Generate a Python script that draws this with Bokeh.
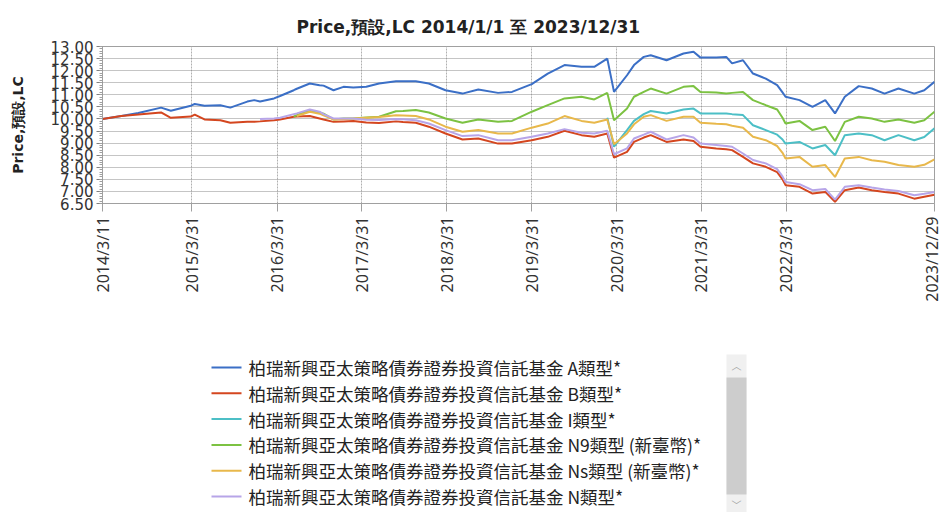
import numpy as np
import pandas as pd
from math import pi
from bokeh.plotting import figure
from bokeh.layouts import column
from bokeh.models import (ColumnDataSource, FixedTicker, Label,
                          BoxAnnotation, NumeralTickFormatter, Range1d, Title)
from bokeh.core.properties import value
from bokeh.embed import file_html
from bokeh.resources import INLINE

# ---------------- data ----------------
dates = [
    "2014-03-11", "2014-05-31", "2014-08-12", "2014-11-18", "2014-12-30",
    "2015-03-26", "2015-04-12", "2015-05-24", "2015-07-31", "2015-09-12",
    "2015-11-24", "2015-12-24", "2016-01-18", "2016-03-18", "2016-04-13",
    "2016-06-11", "2016-06-24", "2016-08-19", "2016-09-30", "2016-10-17",
    "2016-11-29", "2017-01-11", "2017-02-22", "2017-04-19", "2017-06-13",
    "2017-08-25", "2017-09-24", "2017-11-18", "2018-01-13", "2018-03-26",
    "2018-06-07", "2018-08-14", "2018-11-07", "2019-01-06", "2019-04-01",
    "2019-06-09", "2019-08-20", "2019-11-01", "2019-12-26", "2020-02-20",
    "2020-03-20", "2020-05-15", "2020-06-14", "2020-07-26", "2020-08-25",
    "2020-11-01", "2021-01-13", "2021-02-25", "2021-03-27", "2021-06-03",
    "2021-07-16", "2021-08-10", "2021-09-26", "2021-11-08", "2022-01-02",
    "2022-02-20", "2022-03-15", "2022-03-28", "2022-05-27", "2022-07-22",
    "2022-09-15", "2022-10-27", "2022-12-08", "2023-02-06", "2023-04-03",
    "2023-05-28", "2023-07-27", "2023-10-03", "2023-11-15", "2023-12-29",
]

fund_a = [10.00, 10.12, 10.25, 10.47, 10.34, 10.55, 10.62, 10.55, 10.57, 10.47,
          10.72, 10.78, 10.72, 10.85, 10.95, 11.19, 11.25, 11.47, 11.40, 11.38,
          11.19, 11.33, 11.30, 11.33, 11.47, 11.56, 11.56, 11.56, 11.47, 11.19,
          11.05, 11.22, 11.08, 11.12, 11.44, 11.88, 12.23, 12.16, 12.16, 12.50,
          11.12, 11.81, 12.23, 12.57, 12.64, 12.43, 12.71, 12.78, 12.54, 12.54,
          12.57, 12.30, 12.43, 11.88, 11.67, 11.40, 11.10, 10.92, 10.78, 10.50,
          10.78, 10.23, 10.92, 11.36, 11.26, 11.05, 11.26, 11.05, 11.19, 11.54]

fund_b = [10.00, 10.12, 10.18, 10.27, 10.05, 10.10, 10.18, 9.98, 9.95, 9.84,
          9.88, 9.88, 9.90, 9.95, 9.98, 10.09, 10.10, 10.12, 10.02, 9.98,
          9.88, 9.90, 9.92, 9.85, 9.83, 9.90, 9.87, 9.84, 9.68, 9.40,
          9.15, 9.19, 8.98, 8.98, 9.12, 9.26, 9.51, 9.33, 9.26, 9.40,
          8.40, 8.64, 9.05, 9.23, 9.33, 9.05, 9.15, 9.09, 8.85, 8.78,
          8.75, 8.71, 8.43, 8.16, 8.02, 7.80, 7.50, 7.26, 7.19, 6.91,
          6.98, 6.57, 7.05, 7.16, 7.05, 6.98, 6.91, 6.70, 6.78, 6.86]

fund_i = [None] * 39 + [
          10.05, 8.85, 9.54, 9.92, 10.20, 10.33, 10.23, 10.39, 10.43, 10.23,
          10.23, 10.23, 10.20, 10.16, 9.74, 9.54, 9.35, 9.15, 8.98, 9.05,
          8.78, 8.92, 8.50, 9.33, 9.40, 9.33, 9.12, 9.33, 9.12, 9.25, 9.61]

fund_n9 = [None] * 15 + [
          10.10, 10.16, 10.35, 10.27, 10.22, 9.98, 10.02, 10.02, 10.06, 10.09,
          10.32, 10.33, 10.37, 10.27, 10.02, 9.84, 9.98, 9.88, 9.92, 10.30,
          10.57, 10.85, 10.92, 10.81, 11.08, 9.95, 10.43, 10.92, 11.12, 11.26,
          11.05, 11.33, 11.36, 11.12, 11.10, 11.05, 11.08, 11.12, 10.78, 10.57,
          10.39, 10.05, 9.81, 9.92, 9.54, 9.68, 9.09, 9.88, 10.09, 10.02,
          9.88, 9.98, 9.84, 9.95, 10.30]

fund_ns = [None] * 16 + [
          10.12, 10.30, 10.22, 10.15, 9.98, 10.00, 10.02, 10.05, 10.08, 10.15,
          10.14, 10.12, 9.98, 9.68, 9.47, 9.54, 9.40, 9.40, 9.64, 9.81,
          10.12, 9.92, 9.84, 9.98, 8.95, 9.40, 9.78, 10.09, 10.16, 9.92,
          10.09, 10.09, 9.84, 9.80, 9.78, 9.72, 9.64, 9.26, 9.12, 8.88,
          8.60, 8.36, 8.43, 8.02, 8.09, 7.60, 8.36, 8.43, 8.29, 8.23,
          8.09, 8.02, 8.10, 8.33]

fund_n = [None] * 12 + [
          10.00, 10.02, 10.05, 10.20, 10.23, 10.39, 10.30, 10.20, 10.02, 10.02,
          10.02, 9.97, 9.96, 10.00, 9.99, 9.95, 9.81, 9.54, 9.29, 9.33,
          9.12, 9.12, 9.26, 9.40, 9.58, 9.43, 9.40, 9.51, 8.54, 8.78,
          9.19, 9.35, 9.47, 9.15, 9.33, 9.23, 8.98, 8.92, 8.88, 8.85,
          8.57, 8.30, 8.16, 7.92, 7.62, 7.39, 7.30, 7.05, 7.10, 6.66,
          7.19, 7.26, 7.16, 7.08, 7.02, 6.84, 6.90, 6.98]

series_names = [
    "柏瑞新興亞太策略債券證券投資信託基金 A類型*",
    "柏瑞新興亞太策略債券證券投資信託基金 B類型*",
    "柏瑞新興亞太策略債券證券投資信託基金 I類型*",
    "柏瑞新興亞太策略債券證券投資信託基金 N9類型 (新臺幣)*",
    "柏瑞新興亞太策略債券證券投資信託基金 Ns類型 (新臺幣)*",
    "柏瑞新興亞太策略債券證券投資信託基金 N類型*",
]
series_values = [fund_a, fund_b, fund_i, fund_n9, fund_ns, fund_n]
series_colors = ["#3b6fc6", "#d4461f", "#4cbfc6", "#7cc242", "#e8b84b", "#b7a5e8"]

tick_dates = ["2014-03-11", "2015-03-31", "2016-03-31", "2017-03-31", "2018-03-31",
              "2019-03-31", "2020-03-31", "2021-03-31", "2022-03-31", "2023-12-29"]
tick_labels = ["2014/3/11", "2015/3/31", "2016/3/31", "2017/3/31", "2018/3/31",
               "2019/3/31", "2020/3/31", "2021/3/31", "2022/3/31", "2023/12/29"]

y_ticks = [6.5, 7.0, 7.5, 8.0, 8.5, 9.0, 9.5, 10.0, 10.5, 11.0, 11.5, 12.0, 12.5, 13.0]

title_text = "Price,預設,LC 2014/1/1 至 2023/12/31"
y_title = "Price,預設,LC"

# ---------------- layout constants ----------------
W = 942
BL, BR = 102, 8          # left / right borders (shared by both panels)
H1, H2 = 332, 180        # chart panel / legend panel heights

# ---------------- chart figure ----------------
def ms(d):
    return float(pd.Timestamp(d).value // 10**6)

x_dt = pd.to_datetime(dates)

p = figure(width=W, height=H1, x_axis_type="datetime",
           x_range=Range1d(ms(tick_dates[0]), ms(tick_dates[-1])),
           y_range=Range1d(6.5, 13.0),
           output_backend="svg", toolbar_location=None,
           min_border_left=BL, min_border_right=BR,
           min_border_top=46, min_border_bottom=H1 - 46 - 157)
p.title = Title(text=title_text, align="left", offset=194, standoff=20,
                text_font="DejaVu Sans", text_font_style="bold",
                text_font_size="17px", text_color="#222222")
p.background_fill_color = "white"
p.border_fill_color = "white"
p.outline_line_color = "#a0a0a0"
p.outline_line_width = 1

for vals, col in zip(series_values, series_colors):
    src = ColumnDataSource(dict(x=x_dt, y=np.array(vals, dtype=float)))
    p.line("x", "y", source=src, line_color=col, line_width=2)

# x axis
xt = [ms(d) for d in tick_dates]
p.xaxis.ticker = FixedTicker(ticks=xt)
p.xaxis.major_label_overrides = {t: lab for t, lab in zip(xt, tick_labels)}
p.xaxis.major_label_orientation = pi / 2
p.xaxis.major_label_text_font = "Noto Sans"
p.xaxis.major_label_text_font_size = "16px"
p.xaxis.major_label_text_color = "#333333"
p.xaxis.major_label_standoff = 5
p.xaxis.major_tick_out = 8
p.xaxis.major_tick_in = 0
p.xaxis.major_tick_line_color = "#a0a0a0"
p.xaxis.minor_tick_line_color = None
p.xaxis.axis_line_color = "#a0a0a0"

# y axis
minor = [round(6.5 + 0.1 * k, 2) for k in range(66)]
p.yaxis.ticker = FixedTicker(ticks=y_ticks, minor_ticks=minor)
p.yaxis.formatter = NumeralTickFormatter(format="0.00")
p.yaxis.major_label_text_font = "DejaVu Sans"
p.yaxis.major_label_text_font_size = "15px"
p.yaxis.major_label_text_color = "#333333"
p.yaxis.major_label_standoff = 3
p.yaxis.major_tick_out = 6
p.yaxis.major_tick_in = 0
p.yaxis.minor_tick_out = 3
p.yaxis.minor_tick_in = 0
p.yaxis.major_tick_line_color = "#808080"
p.yaxis.minor_tick_line_color = "#a0a0a0"
p.yaxis.axis_line_color = "#a0a0a0"
p.yaxis.axis_label = y_title
p.yaxis.axis_label_text_font = "DejaVu Sans"
p.yaxis.axis_label_text_font_style = "bold"
p.yaxis.axis_label_text_font_size = "14px"
p.yaxis.axis_label_text_color = "#222222"
p.yaxis.axis_label_standoff = 22

# grids
p.ygrid.grid_line_color = "#8a8a8a"
p.ygrid.grid_line_dash = "1 1"
p.ygrid.grid_line_width = 1
p.xgrid.grid_line_color = "#b0b0b0"
p.xgrid.grid_line_dash = "2 1"
p.xgrid.grid_line_width = 1

# ---------------- legend panel (page-pixel coordinates, y downwards) ----------------
X0 = 104                  # page x of the frame's left edge
Y0 = 333                  # page y of the legend panel's top edge
q = figure(width=W, height=H2,
           x_range=Range1d(X0, X0 + W - BL - BR), y_range=Range1d(Y0 + H2, Y0),
           output_backend="svg", toolbar_location=None,
           x_axis_location=None, y_axis_location=None,
           min_border_left=BL, min_border_right=BR, min_border_top=0, min_border_bottom=0)
q.title.visible = False
q.outline_line_color = None
q.grid.visible = False
q.background_fill_color = "white"
q.border_fill_color = "white"

n = len(series_names)
row_y = [368 + 25.8 * i for i in range(n)]
leg = ColumnDataSource(dict(
    x0=[213] * n, x1=[243] * n, tx=[250] * n, y=row_y,
    color=series_colors, name=series_names))
q.segment(x0="x0", y0="y", x1="x1", y1="y", source=leg, line_color="color", line_width=2)
q.text(x="tx", y="y", text="name", source=leg, text_baseline="middle", text_align="left",
       text_font=value("Noto Sans CJK TC"), text_font_size="17.5px", text_color="#222222")

# scrollbar of the legend box
q.add_layout(BoxAnnotation(left=728, right=748, top=355, bottom=Y0 + H2,
                           fill_color="#f0f0f0", fill_alpha=1, line_color=None))
q.add_layout(BoxAnnotation(left=728, right=748, top=378, bottom=495,
                           fill_color="#cdcdcd", fill_alpha=1, line_color=None))
q.add_layout(Label(x=738, y=366, text="︿", text_align="center", text_baseline="middle",
                   text_font="Noto Sans CJK TC", text_font_size="10px", text_color="#a0a0a0"))
q.add_layout(Label(x=738, y=505, text="﹀", text_align="center", text_baseline="middle",
                   text_font="Noto Sans CJK TC", text_font_size="10px", text_color="#a0a0a0"))

open("out.html", "w").write(file_html(column(p, q, spacing=0), INLINE))
